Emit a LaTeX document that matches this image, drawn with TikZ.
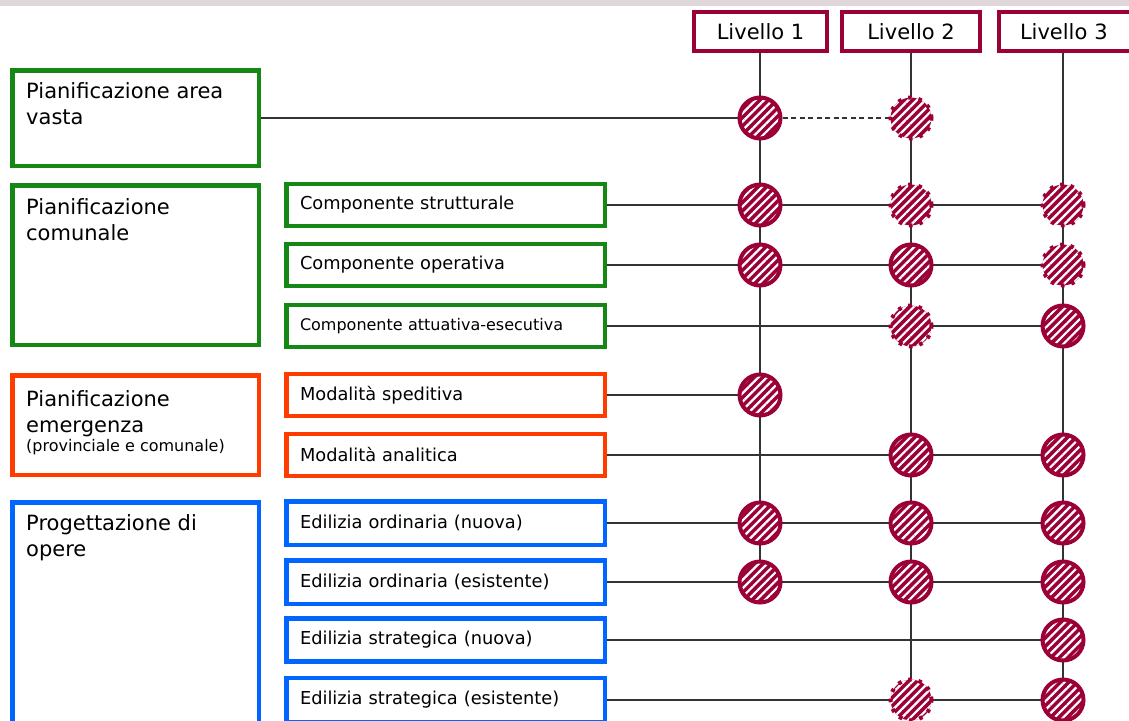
\documentclass[tikz,border=0pt]{standalone}
\usepackage{fontspec}
\setmainfont{DejaVu Sans}
\usetikzlibrary{positioning,patterns.meta,backgrounds}
\definecolor{lvred}{RGB}{155,0,55}
\definecolor{pgreen}{RGB}{20,135,20}
\definecolor{porange}{RGB}{255,60,0}
\definecolor{pblue}{RGB}{0,102,255}
\definecolor{topband}{RGB}{222,214,216}

\begin{document}
\begin{tikzpicture}[x=1pt, y=-1pt,
  bigbox/.style={draw, line width=4.5pt, minimum width=246.5pt, inner sep=0pt},
  bigtxt/.style={inner sep=0pt, align=left, font=\fontsize{21}{26}\selectfont},
  subbox/.style={draw, line width=4.5pt, minimum height=42pt, text width=291pt,
    inner xsep=13.75pt, inner ysep=0pt, align=left, font=\fontsize{17.8}{21}\selectfont},
  lvbox/.style={draw=lvred, line width=4pt, minimum height=39pt, font=\fontsize{21}{25}\selectfont},
  lvhatch/.style={circle, minimum size=41pt, inner sep=0pt,
    preaction={fill=lvred}, pattern={Lines[angle=45,distance=6pt,line width=2.2pt]},
    pattern color=white},
  lvfull/.style={lvhatch, draw=lvred, line width=4pt},
  lvpart/.style={lvhatch, postaction={draw=lvred, line width=4pt, dash pattern=on 3.5pt off 7pt}},
  link/.style={line width=1.5pt, draw=black!80}]
\useasboundingbox (0,0) rectangle (1129,720);
\fill[topband] (0,0) rectangle (1129,6);

% livelli
\node[lvbox, minimum width=133pt] (lv1) at (760.5,31.5) {Livello 1};
\node[lvbox, minimum width=138pt] (lv2) at (911,31.5) {Livello 2};
\node[lvbox, text width=138pt, inner xsep=21pt, align=left,
  anchor=west] (lv3) at (997,31.5) {Livello 3};

% ambiti
\node[bigbox, draw=pgreen, minimum height=95.5pt] (pav) at (135.5,118) {};
\node[bigbox, draw=pgreen, minimum height=159.5pt] (pcom) at (135.5,265) {};
\node[bigbox, draw=porange, minimum height=99.5pt] (pem) at (135.5,425) {};
\node[bigbox, draw=pblue, minimum height=225.5pt] (prog) at (135.5,615) {};
\node[bigtxt, below right=14pt and 16pt of pav.north west] (pavtxt) {Pianificazione area\\vasta};
\node[bigtxt, below right=15pt and 16pt of pcom.north west] (pcomtxt) {Pianificazione\\comunale};
\node[bigtxt, below right=17pt and 16pt of pem.north west] (pemtxt) {Pianificazione\\emergenza};
\node[inner sep=0pt, font=\fontsize{16}{19}\selectfont, below right=2pt and 0pt of pemtxt.south west] (pemnote) {(provinciale e comunale)};
\node[bigtxt, below right=14pt and 16pt of prog.north west] (progtxt) {Progettazione di\\opere};

% componenti
\node[subbox, draw=pgreen] (cs) at (445.5,205) {Componente strutturale};
\node[subbox, draw=pgreen] (co) at (445.5,265) {Componente operativa};
\node[subbox, draw=pgreen, font=\fontsize{16}{19}\selectfont] (ca) at (445.5,326) {Componente attuativa-esecutiva};
\node[subbox, draw=porange] (ms) at (445.5,395) {Modalità speditiva};
\node[subbox, draw=porange] (ma) at (445.5,455) {Modalità analitica};
\node[subbox, draw=pblue, minimum height=43.5pt] (eon) at (445.5,523) {Edilizia ordinaria (nuova)};
\node[subbox, draw=pblue, minimum height=43.5pt] (eoe) at (445.5,582) {Edilizia ordinaria (esistente)};
\node[subbox, draw=pblue, minimum height=43pt] (esn) at (445.5,640) {Edilizia strategica (nuova)};
\node[subbox, draw=pblue, minimum height=44pt] (ese) at (445.5,700) {Edilizia strategica (esistente)};

% cerchi
\node[lvfull] (pav1) at (760,118) {};
\node[lvpart] (pav2) at (911,118) {};
\node[lvfull] (cs1) at (760,205) {};
\node[lvpart] (cs2) at (911,205) {};
\node[lvpart] (cs3) at (1063,205) {};
\node[lvfull] (co1) at (760,265) {};
\node[lvfull] (co2) at (911,265) {};
\node[lvpart] (co3) at (1063,265) {};
\node[lvpart] (ca2) at (911,326) {};
\node[lvfull] (ca3) at (1063,326) {};
\node[lvfull] (ms1) at (760,395) {};
\node[lvfull] (ma2) at (911,455) {};
\node[lvfull] (ma3) at (1063,455) {};
\node[lvfull] (eon1) at (760,523) {};
\node[lvfull] (eon2) at (911,523) {};
\node[lvfull] (eon3) at (1063,523) {};
\node[lvfull] (eoe1) at (760,582) {};
\node[lvfull] (eoe2) at (911,582) {};
\node[lvfull] (eoe3) at (1063,582) {};
\node[lvfull] (esn3) at (1063,640) {};
\node[lvpart] (ese2) at (911,700) {};
\node[lvfull] (ese3) at (1063,700) {};

\begin{scope}[on background layer]
  \draw[link] (lv1.south -| eoe1) -- (eoe1);
  \draw[link] (lv2.south -| ese2) -- (ese2);
  \draw[link] (lv3.south -| ese3) -- (ese3);
  \draw[link] (pav.east) -- (pav1);
  \draw[link, dash pattern=on 5pt off 3.5pt] (pav1) -- (pav2);
  \foreach \from/\to in {cs/cs3, co/co3, ca/ca3, ms/ms1, ma/ma3, eon/eon3, eoe/eoe3, esn/esn3, ese/ese3}
    \draw[link] (\from.east) -- (\to);
\end{scope}
\end{tikzpicture}
\end{document}
